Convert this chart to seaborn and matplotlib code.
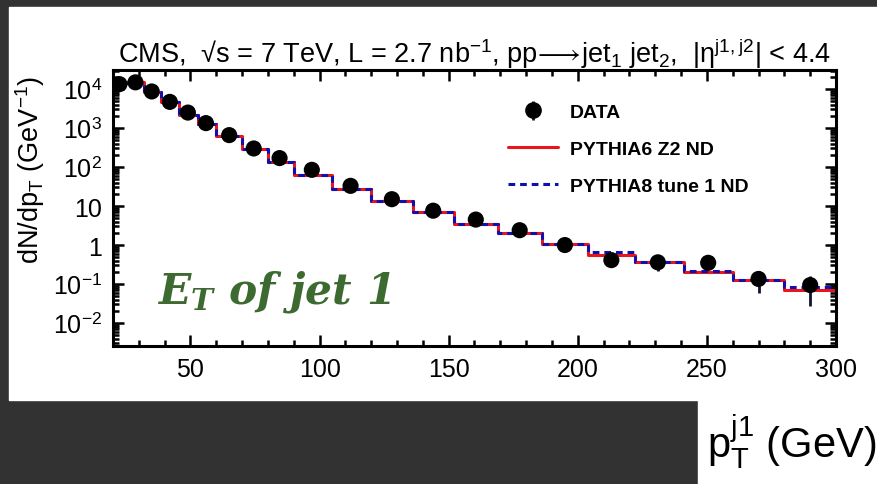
import numpy as np
import pandas as pd
import seaborn as sns
import matplotlib.pyplot as plt
from matplotlib.patches import Rectangle
from matplotlib.lines import Line2D
from matplotlib.ticker import FixedLocator, FixedFormatter, MultipleLocator, NullFormatter, LogLocator

# Data
pt_edges = [20, 26, 32, 38.5, 45.5, 53, 60, 70, 80, 90, 105, 120, 136, 152, 169, 186, 204, 222, 241, 260, 280, 300]
pt_centers = [22.5, 28.7, 35, 42, 49, 56, 65, 74.5, 84.5, 97, 112, 128, 144, 160.5, 177.5, 195, 213, 231, 250.5, 270, 290]
data_vals = [13400, 14900, 8700, 4700, 2500, 1340, 660, 300, 170, 85, 33, 15, 7.6, 4.5, 2.4, 1.0, 0.41, 0.36, 0.35, 0.135, 0.094]
data_errs = [300, 300, 200, 100, 50, 25, 12, 6, 4, 2, 1, 0.5, 0.3, 0.25, 0.15, 0.08, 0.14, 0.15, 0.06, 0.077, 0.067]
pythia6 = [14100, 15500, 8300, 4600, 2140, 1260, 620, 290, 132, 63, 28, 13.8, 6.9, 3.5, 2.0, 1.07, 0.55, 0.36, 0.20, 0.129, 0.071]
pythia8 = [14100, 15500, 8300, 4600, 2140, 1260, 620, 290, 132, 63, 28, 13.8, 6.9, 3.5, 2.0, 1.07, 0.65, 0.36, 0.22, 0.129, 0.085]

ytick_vals = [1e-2, 1e-1, 1, 10, 1e2, 1e3, 1e4]
ytick_labels = [r"$10^{\mathrm{-2}}$", r"$10^{\mathrm{-1}}$", "1", "10", r"$10^{2}$", r"$10^{3}$", r"$10^{4}$"]

sns.set_style("ticks")
plt.rcParams['font.family'] = ['Liberation Sans', 'DejaVu Sans']
plt.rcParams['mathtext.fontset'] = 'custom'
plt.rcParams['mathtext.rm'] = 'Liberation Sans'
plt.rcParams['mathtext.it'] = 'DejaVu Serif:italic:bold'
plt.rcParams['mathtext.bf'] = 'Liberation Sans:bold'
for key in ['text.color', 'axes.labelcolor', 'xtick.color', 'ytick.color', 'axes.edgecolor']:
    plt.rcParams[key] = 'black'

W, H = 877, 485
fig = plt.figure(figsize=(W / 100, H / 100), dpi=100, facecolor='#323232')

def px_rect(x0, y0, x1, y1, color):
    fig.patches.append(Rectangle((x0 / W, 1 - y1 / H), (x1 - x0) / W, (y1 - y0) / H,
                                 transform=fig.transFigure, color=color, zorder=-10))

px_rect(9, 8, W, 401, 'white')
px_rect(698, 401, W, H, 'white')

ax = fig.add_axes([113 / W, 1 - 347 / H, (836 - 113) / W, (347 - 71) / H])
ax.set_facecolor('white')

# step histograms
red_df = pd.DataFrame({'pt': pt_edges, 'val': pythia6 + [pythia6[-1]]})
blue_df = pd.DataFrame({'pt': pt_edges, 'val': pythia8 + [pythia8[-1]]})
sns.lineplot(data=red_df, x='pt', y='val', drawstyle='steps-post', color='#e8151b',
             lw=2.2, estimator=None, sort=False, ax=ax, zorder=2)
sns.lineplot(data=blue_df, x='pt', y='val', drawstyle='steps-post', color='#1010b0',
             lw=2.2, ls=(0, (2.2, 1.6)), estimator=None, sort=False, ax=ax, zorder=3)

# data points
data_handle = ax.errorbar(pt_centers, data_vals, yerr=data_errs, fmt='none', ecolor='#111133',
                          elinewidth=2, zorder=4)
sns.scatterplot(x=pt_centers, y=data_vals, color='black', s=135, edgecolor='none', ax=ax, zorder=5)

ax.set_yscale('log')
ax.set_xlim(20, 300)
ax.set_ylim(10 ** -2.59, 10 ** 4.49)
ax.yaxis.set_major_locator(FixedLocator(ytick_vals))
ax.yaxis.set_major_formatter(FixedFormatter(ytick_labels))
ax.yaxis.set_minor_locator(LogLocator(base=10, subs=np.arange(2, 10), numticks=20))
ax.yaxis.set_minor_formatter(NullFormatter())
ax.xaxis.set_major_locator(MultipleLocator(50))
ax.xaxis.set_minor_locator(MultipleLocator(10))
ax.tick_params(which='both', direction='in', top=True, right=True, width=1.8, labelsize=18, pad=8,
               colors='black')
ax.tick_params(which='major', length=8)
ax.tick_params(which='minor', length=4)
for s in ax.spines.values():
    s.set_linewidth(2.2)
    s.set_color('black')
ax.set_xlabel('')
ax.set_ylabel('')

ax.set_title(r"CMS,  √s = 7 TeV, L = 2.7 nb$^{\mathrm{-1}}$, pp$\!\longrightarrow\!$jet$_{\mathrm{1}}$ jet$_{\mathrm{2}}$,  |η$^{\mathrm{j1,j2}}$| < 4.4",
             fontsize=19.5, pad=5)

fig.text(30 / W, 1 - 170 / H, r"dN/dp$_{\mathrm{T}}$ (GeV$^{\mathrm{-1}}$)", rotation=90,
         ha='center', va='center', fontsize=19.5)
fig.text(876 / W, 1 - 443 / H, r"p$_{\mathrm{T}}^{\mathrm{j1}}$ (GeV)", ha='right', va='center', fontsize=30)

ax.text(157 / W, 1 - 292 / H, r"$E_T$ of jet 1", transform=fig.transFigure, color='#3d6a30',
        family='DejaVu Serif', style='italic', weight='bold', fontsize=30.5, va='center', ha='left')

handles = [(data_handle, Line2D([], [], marker='o', color='black', ls='none', markersize=11)),
           Line2D([], [], color='#e8151b', lw=2.2),
           Line2D([], [], color='#1010b0', lw=2.2, ls=(0, (2.2, 1.6)))]
ax.legend(handles, ['DATA', 'PYTHIA6 Z2 ND', 'PYTHIA8 tune 1 ND'], frameon=False,
          prop={'weight': 'bold', 'size': 14}, loc='upper left',
          bbox_to_anchor=(490 / W, 1 - 87 / H), bbox_transform=fig.transFigure,
          handlelength=2.6, labelspacing=1.0, handletextpad=0.6)

fig.savefig('out.png', dpi=100, facecolor=fig.get_facecolor())
